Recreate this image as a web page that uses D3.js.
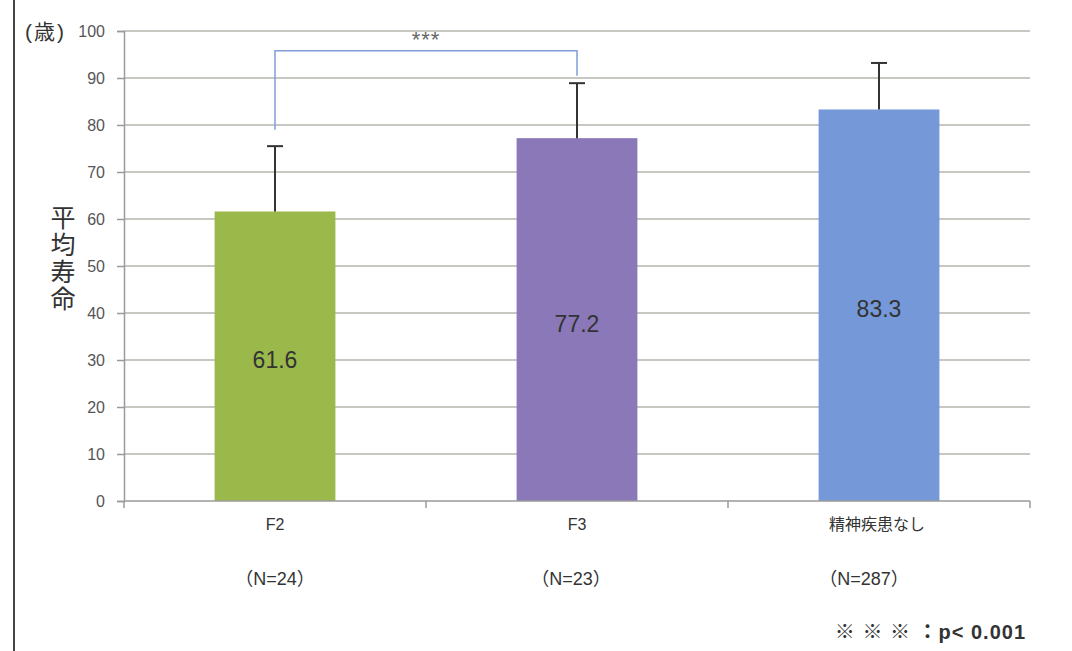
<!DOCTYPE html>
<meta charset="utf-8" />
<title>平均寿命</title>
<style>
  body { margin: 0; background: #fff; }
  text { font-family: "Liberation Sans", "Noto Sans CJK JP", sans-serif; }
  .grid line { stroke: #b4b6ae; stroke-width: 1.5px; }
  .axis path, .axis line { stroke: #9a9a9a; stroke-width: 1.5px; }
  .axis text { fill: #555; font-size: 16px; }
</style>
<body>
<svg width="1072" height="651"></svg>
<script src="https://d3js.org/d3.v7.min.js"></script>
<script>
const categories = ["F2", "F3", "精神疾患なし"];
const counts = ["(N=24)", "(N=23)", "(N=287)"];
const means = [61.6, 77.2, 83.3];
const upper = [75.5, 88.9, 93.2];
const colors = ["#9ab94a", "#8a78b9", "#7498d8"];
const yTicks = [0, 10, 20, 30, 40, 50, 60, 70, 80, 90, 100];

const svg = d3.select("svg");
const plotL = 124, plotR = 1030, plotT = 31, plotB = 501;

const x = d3.scaleBand().domain(categories).range([plotL, plotR]).paddingInner(0.6).paddingOuter(0.3);
const xb = d3.scaleBand().domain(categories).range([plotL, plotR]);
const y = d3.scaleLinear().domain([0, 100]).range([plotB, plotT]);

// left frame line
svg.append("line").attr("x1", 14).attr("x2", 14).attr("y1", 0).attr("y2", 651)
  .attr("stroke", "#444").attr("stroke-width", 2);

// gridlines
svg.append("g").attr("class", "grid").selectAll("line")
  .data(yTicks.filter(d => d > 0)).join("line")
  .attr("x1", plotL).attr("x2", plotR)
  .attr("y1", d => y(d)).attr("y2", d => y(d));

// bars
svg.append("g").selectAll("rect")
  .data(means).join("rect")
  .attr("x", (d, i) => x(categories[i]))
  .attr("width", x.bandwidth())
  .attr("y", d => y(d))
  .attr("height", d => y(0) - y(d))
  .attr("fill", (d, i) => colors[i]);

// error bars
const eb = svg.append("g").attr("stroke", "#333").attr("stroke-width", 2);
upper.forEach((u, i) => {
  const cx = x(categories[i]) + x.bandwidth() / 2;
  eb.append("line").attr("x1", cx).attr("x2", cx).attr("y1", y(means[i])).attr("y2", y(u));
  eb.append("line").attr("x1", cx - 8).attr("x2", cx + 8).attr("y1", y(u)).attr("y2", y(u));
});

// value labels
svg.append("g").selectAll("text")
  .data(means).join("text")
  .attr("x", (d, i) => x(categories[i]) + x.bandwidth() / 2)
  .attr("y", d => (y(d) + y(0)) / 2 + 12)
  .attr("text-anchor", "middle")
  .attr("font-size", 23).attr("fill", "#333")
  .text(d => d.toFixed(1));

// y axis
const yAxis = svg.append("g").attr("class", "axis")
  .attr("transform", `translate(${plotL},0)`)
  .call(d3.axisLeft(y).tickValues(yTicks).tickSize(7).tickPadding(12));
yAxis.selectAll(".tick line").attr("stroke", "#9a9a9a");

// x axis
const xAxis = svg.append("g").attr("class", "axis")
  .attr("transform", `translate(0,${plotB})`);
xAxis.append("line").attr("x1", plotL).attr("x2", plotR).attr("stroke", "#9a9a9a").attr("stroke-width", 1.5);
xAxis.selectAll(".ct").data([0, 1, 2, 3]).join("line")
  .attr("x1", i => plotL + i * xb.step()).attr("x2", i => plotL + i * xb.step())
  .attr("y1", 0).attr("y2", 7).attr("stroke", "#9a9a9a").attr("stroke-width", 1.5);

// category labels
svg.append("g").selectAll("text")
  .data(categories).join("text")
  .attr("x", d => x(d) + x.bandwidth() / 2 + (d === "精神疾患なし" ? -2 : 0))
  .attr("y", 530).attr("text-anchor", "middle")
  .attr("font-size", 16).attr("fill", "#333")
  .text(d => d);

const nOffsets = [0, -6, -15];
svg.append("g").selectAll("text")
  .data(counts).join("text")
  .attr("x", (d, i) => x(categories[i]) + x.bandwidth() / 2 + nOffsets[i])
  .attr("y", 585).attr("text-anchor", "middle")
  .attr("font-size", 18).attr("fill", "#333")
  .text(d => d.replace("(", "（").replace(")", "）"));

// significance bracket
const c0 = x(categories[0]) + x.bandwidth() / 2;
const c1 = x(categories[1]) + x.bandwidth() / 2;
svg.append("path")
  .attr("d", `M${c0},${y(79)}V${y(95.8)}H${c1}V${y(90.5)}`)
  .attr("fill", "none").attr("stroke", "#7f9ed8").attr("stroke-width", 1.5);
svg.append("text").attr("x", (c0 + c1) / 2).attr("y", 47)
  .attr("text-anchor", "middle").attr("font-size", 22).attr("fill", "#666")
  .attr("letter-spacing", 1)
  .text("***");

// unit and axis title
svg.append("text").attr("x", 25).attr("y", 39).attr("font-size", 21)
  .attr("letter-spacing", 2).attr("fill", "#333").text("(歳)");
svg.append("g").selectAll("text")
  .data(["平", "均", "寿", "命"]).join("text")
  .attr("x", 63).attr("y", (d, i) => 227 + i * 27)
  .attr("text-anchor", "middle").attr("font-size", 25).attr("fill", "#333")
  .text(d => d);

// footnote
svg.append("text").attr("x", 1026).attr("y", 639).attr("text-anchor", "end")
  .attr("font-size", 20).attr("font-weight", "bold").attr("fill", "#333")
  .attr("letter-spacing", 1)
  .text("※ ※ ※ ：p< 0.001");
</script>
</body>
